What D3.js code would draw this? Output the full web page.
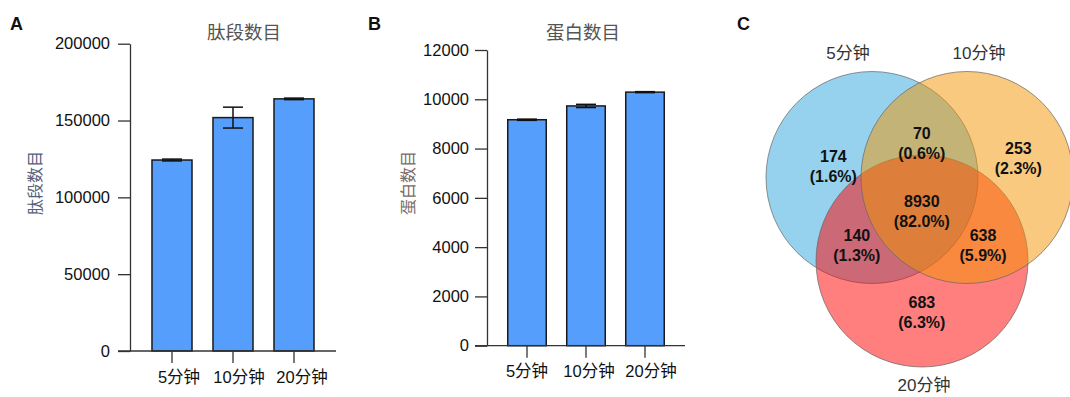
<!DOCTYPE html>
<html>
<head>
<meta charset="utf-8">
<script src="https://cdn.jsdelivr.net/npm/d3@7"></script>
<style>
  html, body { margin: 0; padding: 0; background: #fff; }
  svg { display: block; }
  text { font-family: "Liberation Sans", Arial, "Noto Sans CJK SC", sans-serif; }
</style>
</head>
<body>
<svg id="fig" width="1070" height="397"></svg>
<script>
// ---- data ----
const groups = ["5分钟", "10分钟", "20分钟"];

// Panel A: peptide counts (mean ± error)
const peptideMean = [124300, 151900, 164100];
const peptideErr  = [600, 6800, 500];
const peptideTicks = [0, 50000, 100000, 150000, 200000];

// Panel B: protein counts (mean ± error)
const proteinMean = [9170, 9730, 10290];
const proteinErr  = [25, 65, 20];
const proteinTicks = [0, 2000, 4000, 6000, 8000, 10000, 12000];

// Panel C: Venn region counts
const vennSets = ["5分钟", "10分钟", "20分钟"];
const vennRegions = [
  { sets: [0],       count: 174 },
  { sets: [1],       count: 253 },
  { sets: [2],       count: 683 },
  { sets: [0, 1],    count: 70 },
  { sets: [0, 2],    count: 140 },
  { sets: [1, 2],    count: 638 },
  { sets: [0, 1, 2], count: 8930 }
];

const svg = d3.select("#fig");
const FONT_TICK = 16.5;

function panelLetter(x, y, s) {
  svg.append("text").attr("x", x).attr("y", y)
    .attr("font-size", 18).attr("font-weight", "bold").attr("fill", "#111")
    .text(s);
}

function barPanel(cfg) {
  const g = svg.append("g");
  const y = d3.scaleLinear().domain(cfg.domain).range([cfg.y0, cfg.y1]);
  const x = d3.scaleBand().domain(groups).range(cfg.xr)
    .paddingInner(cfg.pad).paddingOuter(cfg.pad / 2);

  // bars
  g.selectAll("rect.bar").data(cfg.mean).join("rect")
    .attr("class", "bar")
    .attr("x", (d, i) => x(groups[i]))
    .attr("width", x.bandwidth())
    .attr("y", d => y(d))
    .attr("height", d => y(0) - y(d))
    .attr("fill", "#569efb")
    .attr("stroke", "#1a1a1a")
    .attr("stroke-width", 1.5);

  // error bars
  const eb = g.selectAll("g.err").data(cfg.mean).join("g").attr("class", "err")
    .attr("stroke", "#111").attr("stroke-width", 1.5);
  const cx = i => x(groups[i]) + x.bandwidth() / 2;
  eb.append("line")
    .attr("x1", (d, i) => cx(i)).attr("x2", (d, i) => cx(i))
    .attr("y1", (d, i) => y(d + cfg.err[i])).attr("y2", (d, i) => y(d - cfg.err[i]));
  eb.append("line")
    .attr("x1", (d, i) => cx(i) - 10).attr("x2", (d, i) => cx(i) + 10)
    .attr("y1", (d, i) => y(d + cfg.err[i])).attr("y2", (d, i) => y(d + cfg.err[i]));
  eb.append("line")
    .attr("x1", (d, i) => cx(i) - 10).attr("x2", (d, i) => cx(i) + 10)
    .attr("y1", (d, i) => y(d - cfg.err[i])).attr("y2", (d, i) => y(d - cfg.err[i]));

  // y axis
  const ya = g.append("g").attr("transform", `translate(${cfg.axisX},0)`)
    .call(d3.axisLeft(y).tickValues(cfg.ticks).tickSize(12).tickSizeOuter(0)
      .tickPadding(cfg.tickPad).tickFormat(d3.format("d")));
  ya.selectAll("text").attr("font-size", FONT_TICK).attr("fill", "#111");
  ya.selectAll("line,path").attr("stroke", "#333").attr("stroke-width", 1.3);

  // x axis
  const xa = g.append("g").attr("transform", `translate(0,${y(0)})`)
    .call(d3.axisBottom(x).tickSize(12).tickSizeOuter(0).tickPadding(8));
  xa.select(".domain").remove();
  xa.selectAll("line").attr("stroke", "#333").attr("stroke-width", 1.3);
  xa.selectAll("text").attr("font-size", FONT_TICK).attr("fill", "#111")
    .attr("dx", (d, i) => cfg.labelShift[i]);
  g.append("line")
    .attr("x1", cfg.axisX - 12).attr("x2", cfg.xEnd)
    .attr("y1", y(0)).attr("y2", y(0))
    .attr("stroke", "#333").attr("stroke-width", 1.3);

  // title
  g.append("text").attr("x", cfg.titleX).attr("y", 39)
    .attr("text-anchor", "middle").attr("font-size", 18.5).attr("fill", "#555")
    .attr("font-family", "'Noto Sans CJK SC', sans-serif")
    .text(cfg.title);
  // y label
  g.append("text")
    .attr("transform", `translate(${cfg.ylabX},${cfg.ylabY}) rotate(-90)`)
    .attr("text-anchor", "middle").attr("font-size", 16).attr("fill", cfg.ylabColor)
    .attr("font-family", "'Noto Sans CJK SC', sans-serif")
    .text(cfg.title);
}

panelLetter(10, 30, "A");
barPanel({
  domain: [0, 200000], y0: 351, y1: 43.7, xr: [141.5, 324.5], pad: 0.344,
  mean: peptideMean, err: peptideErr, ticks: peptideTicks,
  axisX: 130, xEnd: 336, tickPad: 8, labelShift: [7, 6, 8],
  title: "肽段数目", titleX: 244, ylabX: 41, ylabY: 183, ylabColor: "#55607a"
});

panelLetter(368, 30, "B");
barPanel({
  domain: [0, 12000], y0: 345.7, y1: 50, xr: [497.5, 674.5], pad: 0.347,
  mean: proteinMean, err: proteinErr, ticks: proteinTicks,
  axisX: 487, xEnd: 685, tickPad: 6, labelShift: [0, 3, 6],
  title: "蛋白数目", titleX: 583, ylabX: 414, ylabY: 183, ylabColor: "#7a6a64"
});

// ---- Panel C: three-set Venn ----
panelLetter(737, 30, "C");
const R = 106;
const circles = [
  { cx: 872, cy: 177.5, fill: "#2da5db", lx: 848, ly: 59 },
  { cx: 967, cy: 177.5, fill: "#f29400", lx: 979, ly: 59 },
  { cx: 922, cy: 261,   fill: "#ff0000", lx: 924, ly: 391 }
];
const drawOrder = [0, 2, 1];
const vg = svg.append("g");
vg.selectAll("circle").data(drawOrder.map(i => circles[i])).join("circle")
  .attr("cx", d => d.cx).attr("cy", d => d.cy).attr("r", R)
  .attr("fill", d => d.fill).attr("fill-opacity", 0.5)
  .attr("stroke", "#666").attr("stroke-opacity", 0.7).attr("stroke-width", 1);

vg.selectAll("text.setlab").data(circles).join("text").attr("class", "setlab")
  .attr("x", d => d.lx).attr("y", d => d.ly)
  .attr("text-anchor", "middle").attr("font-size", 17).attr("fill", "#333")
  .text((d, i) => vennSets[i]);

// label anchor per region (offset from the centroid of the three circle centres)
const cxm = d3.mean(circles, d => d.cx), cym = d3.mean(circles, d => d.cy);
const regionOffset = {
  "0": [-87, -39], "1": [98, -47], "2": [1.5, 107.5],
  "0,1": [1.5, -62], "0,2": [-63.5, 39.7], "1,2": [62.7, 39.7],
  "0,1,2": [1.5, 6.5]
};
const total = d3.sum(vennRegions, d => d.count);
const rl = vg.selectAll("g.reg").data(vennRegions).join("g").attr("class", "reg")
  .attr("transform", d => {
    const o = regionOffset[d.sets.join(",")];
    return `translate(${cxm + o[0]},${cym + o[1]})`;
  })
  .attr("font-size", 16).attr("font-weight", "bold").attr("fill", "#111")
  .attr("text-anchor", "middle");
rl.append("text").attr("y", -4.5).text(d => d.count);
rl.append("text").attr("y", 15.5).text(d => `(${(d.count / total * 100).toFixed(1)}%)`);
</script>
</body>
</html>
